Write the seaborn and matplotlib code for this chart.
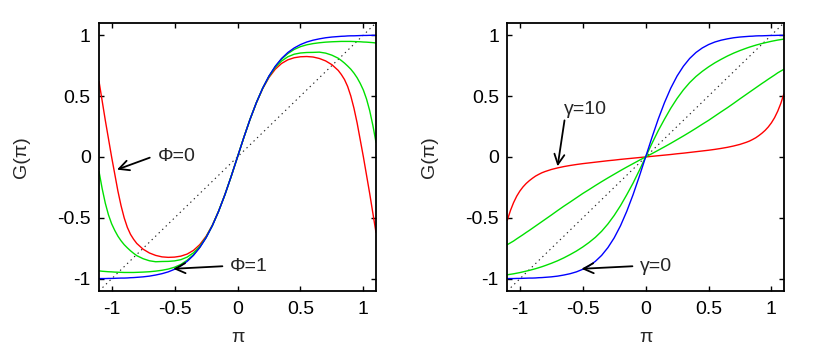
import matplotlib
matplotlib.use("Agg")
import matplotlib.pyplot as plt
import seaborn as sns
import pandas as pd

# ---------------- data ----------------
x_vals = [-1.10, -1.075, -1.05, -1.025, -1.00, -0.975, -0.95, -0.925, -0.90,
          -0.875, -0.85, -0.825, -0.80,
          -0.75, -0.70, -0.65, -0.60, -0.55, -0.50, -0.45, -0.40, -0.35, -0.30,
          -0.25, -0.20, -0.15, -0.10, -0.05,
          0.00,
          0.05, 0.10, 0.15, 0.20, 0.25, 0.30, 0.35, 0.40, 0.45, 0.50, 0.55,
          0.60, 0.65, 0.70, 0.75,
          0.80, 0.825, 0.85, 0.875,
          0.90, 0.925, 0.95, 0.975, 1.00, 1.025, 1.05, 1.075, 1.10]

# left panel (Phi family)
phi1_blue = [-0.998, -0.998, -0.998, -0.997, -0.997, -0.996, -0.995, -0.994, -0.994,
             -0.993, -0.991, -0.990, -0.988,
             -0.984, -0.978, -0.969, -0.958, -0.943, -0.922, -0.894, -0.857, -0.808, -0.744,
             -0.664, -0.565, -0.446, -0.310, -0.159,
             0.0,
             0.159, 0.310, 0.446, 0.565, 0.664, 0.744, 0.808, 0.857, 0.894, 0.922, 0.943,
             0.958, 0.969, 0.978, 0.984,
             0.988, 0.990, 0.991, 0.993,
             0.994, 0.994, 0.995, 0.996, 0.997, 0.997, 0.998, 0.998, 0.998]
phi_green_hi = [-0.935, -0.938, -0.940, -0.942, -0.943, -0.945, -0.946, -0.947, -0.948,
                -0.948, -0.948, -0.948, -0.947,
                -0.945, -0.942, -0.937, -0.930, -0.920, -0.905, -0.882, -0.848, -0.803, -0.742,
                -0.663, -0.565, -0.446, -0.310, -0.159,
                0.0,
                0.159, 0.310, 0.446, 0.565, 0.663, 0.742, 0.803, 0.848, 0.882, 0.905, 0.920,
                0.930, 0.937, 0.942, 0.945,
                0.947, 0.948, 0.948, 0.948,
                0.948, 0.947, 0.946, 0.945, 0.943, 0.942, 0.940, 0.938, 0.935]
phi_green_lo = [-0.120, -0.260, -0.380, -0.475, -0.548, -0.603, -0.650, -0.688, -0.720,
                -0.746, -0.770, -0.791, -0.810,
                -0.835, -0.852, -0.860, -0.858, -0.857, -0.853, -0.843, -0.822, -0.787, -0.735,
                -0.659, -0.563, -0.445, -0.310, -0.159,
                0.0,
                0.159, 0.310, 0.445, 0.563, 0.659, 0.735, 0.787, 0.822, 0.843, 0.853, 0.857,
                0.858, 0.860, 0.852, 0.835,
                0.810, 0.791, 0.770, 0.746,
                0.720, 0.688, 0.650, 0.603, 0.548, 0.475, 0.380, 0.260, 0.120]
phi0_red = [0.620, 0.460, 0.300, 0.150, 0.000, -0.140, -0.280, -0.400, -0.500,
            -0.578, -0.635, -0.676, -0.710,
            -0.757, -0.788, -0.808, -0.820, -0.824, -0.822, -0.814, -0.797, -0.767, -0.720,
            -0.652, -0.560, -0.444, -0.309, -0.159,
            0.0,
            0.159, 0.309, 0.444, 0.560, 0.652, 0.720, 0.767, 0.797, 0.814, 0.822, 0.824,
            0.820, 0.808, 0.788, 0.757,
            0.710, 0.676, 0.635, 0.578,
            0.500, 0.400, 0.280, 0.140, 0.000, -0.150, -0.300, -0.460, -0.620]

# right panel (gamma family)
gam0_blue = list(phi1_blue)
gam_green_hi = [-0.967, -0.963, -0.959, -0.954, -0.949, -0.943, -0.937, -0.931, -0.924,
                -0.917, -0.909, -0.901, -0.892,
                -0.873, -0.852, -0.828, -0.801, -0.772, -0.739, -0.702, -0.660, -0.610, -0.550,
                -0.480, -0.400, -0.310, -0.215, -0.110,
                0.0,
                0.110, 0.215, 0.310, 0.400, 0.480, 0.550, 0.610, 0.660, 0.702, 0.739, 0.772,
                0.801, 0.828, 0.852, 0.873,
                0.892, 0.901, 0.909, 0.917,
                0.924, 0.931, 0.937, 0.943, 0.949, 0.954, 0.959, 0.963, 0.967]
gam_green_lo = [-0.720, -0.705, -0.690, -0.672, -0.655, -0.638, -0.620, -0.603, -0.585,
                -0.567, -0.549, -0.531, -0.513,
                -0.477, -0.440, -0.404, -0.370, -0.335, -0.300, -0.268, -0.235, -0.203, -0.172,
                -0.142, -0.112, -0.083, -0.055, -0.027,
                0.0,
                0.027, 0.055, 0.083, 0.112, 0.142, 0.172, 0.203, 0.235, 0.268, 0.300, 0.335,
                0.370, 0.404, 0.440, 0.477,
                0.513, 0.531, 0.549, 0.567,
                0.585, 0.603, 0.620, 0.638, 0.655, 0.672, 0.690, 0.705, 0.720]
gam10_red = [-0.520, -0.440, -0.375, -0.322, -0.280, -0.246, -0.218, -0.195, -0.175,
             -0.157, -0.143, -0.130, -0.120,
             -0.103, -0.090, -0.079, -0.070, -0.062, -0.055, -0.049, -0.043, -0.037, -0.031,
             -0.026, -0.020, -0.015, -0.010, -0.005,
             0.0,
             0.005, 0.010, 0.015, 0.020, 0.026, 0.031, 0.037, 0.043, 0.049, 0.055, 0.062,
             0.070, 0.079, 0.090, 0.103,
             0.120, 0.130, 0.143, 0.157,
             0.175, 0.195, 0.218, 0.246, 0.280, 0.322, 0.375, 0.440, 0.520]

diag_x = [-1.1, 1.1]
diag_y = [-1.1, 1.1]

tick_vals = [-1, -0.5, 0, 0.5, 1]
tick_labels = ["-1", "-0.5", "0", "0.5", "1"]

# ---------------- styling ----------------
sns.set_theme(style="ticks")
plt.rcParams["font.family"] = ["Liberation Sans", "DejaVu Sans"]
plt.rcParams["axes.unicode_minus"] = False

RED = "#ff0000"
GREEN = "#00e000"
BLUE = "#0000ff"
FS = 14

fig = plt.figure(figsize=(8.17, 3.5), dpi=100)
ax1 = fig.add_axes([0.1212, 0.1686, 0.339, 0.766])
ax2 = fig.add_axes([0.6209, 0.1686, 0.3387, 0.766])


def draw_panel(ax, curves):
    ax.plot(diag_x, diag_y, color="#222222", lw=0.8, ls=(0, (1.2, 3.2)))
    for ys, col in curves:
        df = pd.DataFrame({"x": x_vals, "y": ys})
        sns.lineplot(data=df, x="x", y="y", color=col, lw=1.0, ax=ax,
                     estimator=None, sort=False)
    ax.set_xlim(-1.1, 1.1)
    ax.set_ylim(-1.1, 1.1)
    ax.set_xticks(tick_vals)
    ax.set_xticklabels(tick_labels)
    ax.set_yticks(tick_vals)
    ax.set_yticklabels(tick_labels)
    ax.tick_params(direction="in", top=True, right=True, length=3.3, width=1.0,
                   labelsize=FS, colors="black")
    ax.tick_params(axis="x", pad=7)
    ax.tick_params(axis="y", pad=6)
    for s in ax.spines.values():
        s.set_linewidth(1.3)
        s.set_color("black")
        s.set_visible(True)
    ax.set_xlabel("π", fontsize=FS)
    ax.set_ylabel("G(π)", fontsize=FS)
    ax.yaxis.set_label_coords(-0.25, 0.5)
    ax.xaxis.set_label_coords(0.5, -0.14)


draw_panel(ax1, [(phi0_red, RED), (phi_green_lo, GREEN), (phi_green_hi, GREEN), (phi1_blue, BLUE)])
draw_panel(ax2, [(gam10_red, RED), (gam_green_lo, GREEN), (gam_green_hi, GREEN), (gam0_blue, BLUE)])

arrow = dict(arrowstyle="->", color="black", lw=1.3, shrinkA=0, shrinkB=0,
             mutation_scale=18)

ax1.annotate("", xy=(-0.957, -0.104), xytext=(-0.697, -0.006), arrowprops=arrow)
ax1.text(-0.634, 0.0, "Φ=0", fontsize=FS, va="center", ha="left")
ax1.annotate("", xy=(-0.51, -0.918), xytext=(-0.12, -0.897), arrowprops=arrow)
ax1.text(-0.058, -0.897, "Φ=1", fontsize=FS, va="center", ha="left")

ax2.annotate("", xy=(-0.70, -0.077), xytext=(-0.645, 0.30), arrowprops=arrow)
ax2.text(-0.647, 0.393, "γ=10", fontsize=FS, va="center", ha="left")
ax2.annotate("", xy=(-0.51, -0.918), xytext=(-0.105, -0.897), arrowprops=arrow)
ax2.text(-0.047, -0.897, "γ=0", fontsize=FS, va="center", ha="left")

fig.savefig("out.png", dpi=100)
